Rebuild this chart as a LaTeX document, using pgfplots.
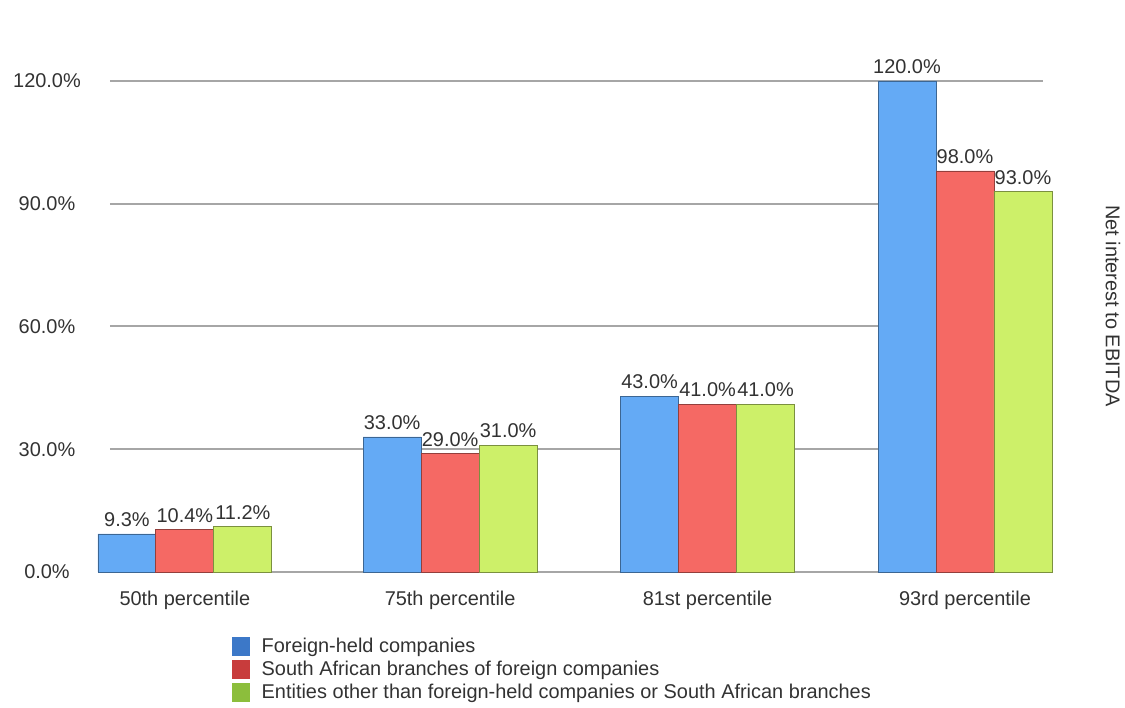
\documentclass[border=0pt]{standalone}
\usepackage{pgfplots}
\pgfplotsset{compat=1.18}
\usepackage{fontspec}
\setmainfont{Liberation Sans}

\definecolor{barblue}{RGB}{100,170,245}
\definecolor{barred}{RGB}{245,105,100}
\definecolor{bargreen}{RGB}{205,240,105}
\definecolor{legblue}{RGB}{60,120,200}
\definecolor{legred}{RGB}{200,60,60}
\definecolor{leggreen}{RGB}{140,190,60}
\definecolor{txt}{RGB}{50,50,50}

\begin{document}
\begin{tikzpicture}
	\begin{axis}
		[
		scale only axis,
		width=466.5bp, height=266bp,
		xmin=-0.288, xmax=3.3,
		ymin=0, ymax=130,
		clip=false,
		axis line style={draw=none},
		major tick length=0pt,
		ymajorgrids,
		grid style={line width=1bp, draw=black!35},
		ytick={0,30,60,90,120},
		xtick={0,1.02,2.01,3},
		xticklabels={50th percentile,75th percentile,81st percentile,93rd percentile},
		/pgf/number format/assume math mode=true,
		yticklabel={\pgfmathprintnumber[fixed,fixed zerofill,precision=1]{\tick}\%},
		yticklabel style={anchor=center, xshift=-31.5bp},
		ticklabel style={font=\fontsize{10}{12}\selectfont, text=txt},
		xticklabel style={yshift=-6bp},
		ybar,
		bar width=0.223,
		nodes near coords={\pgfmathprintnumber[fixed,fixed zerofill,precision=1]{\pgfplotspointmeta}\%},
		nodes near coords style={font=\fontsize{10}{12}\selectfont, text=txt},
		legend style={at={(axis description cs:0.13,-0.115)}, anchor=north west,
			draw=none, fill=none, font=\fontsize{10}{11}\selectfont, text=txt,
			row sep=-1.2pt, inner sep=0pt},
		legend cell align=left,
		legend image code/.code={\fill[#1, draw=none] (0bp,-4.7bp) rectangle (9bp,4.7bp);
			\path[draw=none, fill=none] (9bp,0) -- (13bp,0);},
		]

		\addplot[fill=barblue, draw=barblue!60!black, bar shift=-0.223, forget plot]
			coordinates {(0,9.3) (1.02,33) (2.01,43) (3,120)};
		\addplot[fill=barred, draw=barred!60!black, bar shift=0, forget plot]
			coordinates {(0,10.4) (1.02,29) (2.01,41) (3,98)};
		\addplot[fill=bargreen, draw=bargreen!60!black, bar shift=0.223, forget plot]
			coordinates {(0,11.2) (1.02,31) (2.01,41) (3,93)};

		\addlegendimage{legblue}
		\addlegendentry{Foreign-held companies}
		\addlegendimage{legred}
		\addlegendentry{South African branches of foreign companies}
		\addlegendimage{leggreen}
		\addlegendentry{Entities other than foreign-held companies or South African branches}

		\node[rotate=-90, font=\fontsize{10}{12}\selectfont, text=txt]
			at (rel axis cs:1.075,0.5) {Net interest to EBITDA};
	\end{axis}
	\pgfresetboundingbox
	\path (-55bp,-68bp) rectangle (507.5bp,286bp);
\end{tikzpicture}
\end{document}
